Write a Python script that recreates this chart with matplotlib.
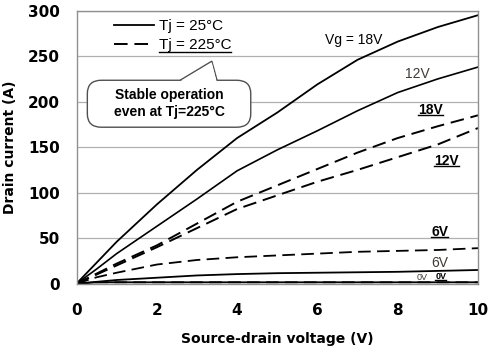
import matplotlib
matplotlib.use('Agg')
import matplotlib.pyplot as plt
from matplotlib.patches import FancyBboxPatch, Polygon
from matplotlib.lines import Line2D

# source-drain voltage (V)
vd = [0, 0.5, 1, 2, 3, 4, 5, 6, 7, 8, 9, 10]

# drain current (A), Tj = 25C
id_25_18v = [0, 23, 46, 87, 125, 160, 188, 219, 246, 266, 282, 295]
id_25_12v = [0, 16, 33, 63, 93, 124, 147, 168, 190, 210, 225, 238]
id_25_6v = [0, 2, 4, 6.5, 9, 10.5, 11.5, 12, 12.5, 13, 14, 15]
id_25_0v = [0, 1.5, 1.5, 1.5, 1.5, 1.5, 1.5, 1.5, 1.5, 1.5, 1.5, 1.5]

# drain current (A), Tj = 225C
id_225_18v = [0, 11, 22, 42, 66, 90, 108, 126, 144, 160, 173, 185]
id_225_12v = [0, 10, 20, 40, 61, 82, 97, 112, 125, 139, 153, 171]
id_225_6v = [0, 7, 12, 21, 26, 29, 31, 33, 35, 36, 37, 39]
id_225_0v = [0, 1.5, 1.5, 1.5, 1.5, 1.5, 1.5, 1.5, 1.5, 1.5, 1.5, 1.5]

y_ticks = [0, 50, 100, 150, 200, 250, 300]
x_ticks = [0, 2, 4, 6, 8, 10]

fig = plt.figure(figsize=(5, 3.55), dpi=100)
ax = fig.add_axes([0.153, 0.201, 0.803, 0.769])

dash = (0, (7, 3.5))
l25, = ax.plot(vd, id_25_18v, color='black', lw=1.3)
ax.plot(vd, id_25_12v, color='black', lw=1.2)
ax.plot(vd, id_25_6v, color='black', lw=1.3)
ax.plot(vd, id_25_0v, color='black', lw=1.3)
l225, = ax.plot(vd, id_225_18v, color='black', lw=1.4, ls=dash)
ax.plot(vd, id_225_12v, color='black', lw=1.4, ls=dash)
ax.plot(vd, id_225_6v, color='black', lw=1.3, ls=dash)
ax.plot(vd, id_225_0v, color='black', lw=1.3, ls=dash)

ax.set_xlim(0, 10)
ax.set_ylim(0, 300)
ax.set_xticks(x_ticks)
ax.set_yticks(y_ticks)
ax.grid(axis='y', color='#b0b0b0', lw=0.9)
ax.set_axisbelow(True)
for s in ax.spines.values():
    s.set_color('#909090')
    s.set_linewidth(1.0)
ax.tick_params(length=0, labelsize=11)
ax.tick_params(axis='y', pad=12)
ax.tick_params(axis='x', pad=14)
for lab in ax.get_xticklabels() + ax.get_yticklabels():
    lab.set_fontweight('bold')

ax.set_xlabel('Source-drain voltage (V)', fontsize=10, fontweight='bold', labelpad=10)
ax.set_ylabel('Drain current (A)', fontsize=10, fontweight='bold', labelpad=8)

underlined = []

# curve labels
ax.text(6.9, 268, 'Vg = 18V', fontsize=10, family='Liberation Sans', ha='center', va='center')
ax.text(8.49, 230, '12V', fontsize=10, family='Liberation Sans', color='#403a35', ha='center', va='center')
ax.text(9.04, 22.5, '6V', fontsize=10, family='Liberation Sans', color='#403a35', ha='center', va='center')
ax.text(8.6, 7, '0V', fontsize=6.5, family='Liberation Sans', color='#403a35', ha='center', va='center')
for x, y, s, fs in [(8.82, 191, '18V', 10), (9.22, 135, '12V', 10),
                    (9.05, 57, '6V', 10), (9.07, 7.5, '0V', 6.5)]:
    t = ax.text(x, y, s, fontsize=fs, fontweight='bold', family='Liberation Sans',
                ha='center', va='center')
    underlined.append((t, 0.1))

# legend
leg = ax.legend([l25, l225], ['Tj = 25°C', 'Tj = 225°C'],
                loc='upper left', bbox_to_anchor=(0.06, 1.02), frameon=False,
                handlelength=2.6, handletextpad=0.3, labelspacing=0.35,
                prop={'family': 'Liberation Sans', 'size': 11})
underlined.append((leg.get_texts()[1], 0.0))

# callout bubble
bx0, by0, bx1, by1 = 0.027, 0.573, 0.434, 0.745
box = FancyBboxPatch((bx0, by0), bx1 - bx0, by1 - by0,
                     boxstyle='round,pad=0,rounding_size=0.035',
                     transform=ax.transAxes, fc='white', ec='#505050', lw=1.0,
                     mutation_aspect=1.4, zorder=5)
ax.add_patch(box)
ptr = Polygon([(0.258, by1), (0.337, 0.815), (0.350, by1)], closed=False,
              transform=ax.transAxes, fc='white', ec='#505050', lw=1.0, zorder=6)
ax.add_patch(ptr)
cover = Polygon([(0.2595, by1 - 0.003), (0.337, 0.81), (0.3485, by1 - 0.003)],
                transform=ax.transAxes, fc='white', ec='none', zorder=6)
ax.add_patch(cover)
ax.text((bx0 + bx1) / 2, (by0 + by1) / 2, 'Stable operation\neven at Tj=225°C',
        transform=ax.transAxes, ha='center', va='center', fontsize=10,
        fontweight='bold', family='Liberation Sans', linespacing=1.3, zorder=7)

# underline some texts (mathtext has no \underline)
fig.canvas.draw()
r = fig.canvas.get_renderer()
for t, frac in underlined:
    bb = t.get_window_extent(r)
    y = bb.y0 + frac * bb.height
    fig.add_artist(Line2D([bb.x0, bb.x1], [y, y], transform=None,
                          color='black', lw=1.0))

fig.savefig('out.png', dpi=100)
